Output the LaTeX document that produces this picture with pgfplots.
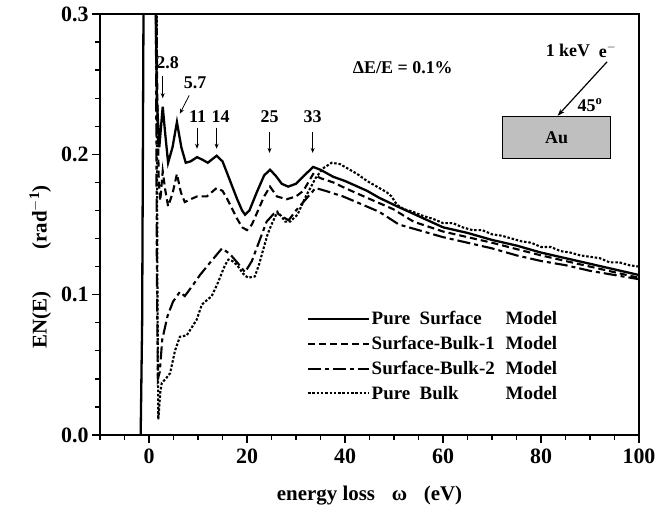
\documentclass[border=0pt]{standalone}
\usepackage{fontspec}
\setmainfont{Liberation Serif}
\usepackage{pgfplots}
\pgfplotsset{compat=1.18}
\usetikzlibrary{arrows.meta}

\pgfplotstableread{
x y
-1.7 0
-1.4 0.08
-1.1 0.32
0 3
1.2 0.35
1.6 0.24
2.1 0.205
2.8 0.234
3.3 0.215
3.9 0.194
4.8 0.205
5.7 0.223
6.6 0.205
7.5 0.194
8.5 0.195
9.8 0.198
11 0.196
12 0.194
13.8 0.199
15 0.195
15.9 0.187
17 0.177
18 0.168
19 0.160
19.6 0.157
20.5 0.160
22 0.173
23.5 0.185
24.7 0.189
25.8 0.185
27.1 0.179
28.4 0.177
30 0.179
31.4 0.184
33.5 0.191
35 0.189
37.6 0.184
40 0.181
44.5 0.174
47 0.169
50.6 0.163
55 0.156
60 0.148
65 0.144
70 0.139
75 0.135
80 0.130
85 0.126
90 0.122
95 0.118
100 0.114
}\surf

\pgfplotstableread{
x y
1.3 0.4
1.7 0.24
2.0 0.18
2.3 0.167
2.8 0.188
3.3 0.175
3.9 0.163
4.8 0.172
5.7 0.186
6.5 0.173
7.3 0.166
8.5 0.168
9.8 0.170
11.8 0.170
13.8 0.176
15 0.174
16 0.168
17 0.161
18 0.154
19 0.148
20 0.146
21 0.150
22 0.158
23.5 0.170
24.7 0.177
26.1 0.170
28.1 0.168
30 0.170
31.5 0.174
33.5 0.186
35 0.183
37.6 0.180
40 0.176
44.5 0.169
49.8 0.161
54 0.152
60 0.145
70 0.137
80 0.128
90 0.120
100 0.112
}\sbone

\pgfplotstableread{
x y
1.3 0.4
1.6 0.12
1.8 0.04
2.2 0.045
2.7 0.068
3.8 0.085
4.9 0.095
6.3 0.102
7.3 0.099
8.8 0.106
10.4 0.114
12.5 0.123
14.9 0.133
16.5 0.129
18 0.123
19.6 0.116
21 0.124
22.6 0.139
24 0.152
25.8 0.159
27 0.156
28.5 0.153
30 0.160
32 0.168
34 0.176
36 0.174
39.6 0.170
43 0.165
47 0.159
51 0.150
55 0.146
60 0.141
65 0.137
70 0.133
75 0.128
80 0.124
85 0.121
90 0.117
95 0.114
100 0.111
}\sbtwo

\pgfplotstableread{
x y
1.5 0.4
1.7 0.12
1.9 0.011
2.3 0.030
2.6 0.037
3.4 0.040
4.3 0.044
5.3 0.060
6.3 0.070
7.7 0.071
9.7 0.082
10.8 0.093
12.8 0.099
14 0.108
15.5 0.121
16.2 0.125
17 0.124
18 0.121
19.2 0.115
20.2 0.112
21.6 0.113
22.5 0.122
23.3 0.132
24.2 0.143
25 0.150
26.2 0.159
27 0.156
27.8 0.152
28.8 0.152
30.3 0.157
32 0.170
34 0.183
35.5 0.190
37.3 0.194
39 0.193
41 0.189
42.5 0.186
44.5 0.181
46.5 0.177
48.5 0.173
49.5 0.170
50.6 0.164
52 0.161
53.9 0.159
56 0.156
58 0.154
60 0.151
62 0.151
64 0.148
66 0.146
68 0.146
70 0.143
72 0.142
74 0.140
76 0.138
78 0.137
80 0.134
82 0.134
84 0.131
86 0.130
88 0.128
90 0.127
92 0.126
94 0.123
96 0.123
98 0.121
100 0.120
}\bulk

\begin{document}
\begin{tikzpicture}[font=\fontsize{18}{21}\selectfont\bfseries]
\begin{axis}[
  scale only axis,
  width=539bp, height=421bp,
  xmin=-10, xmax=100, ymin=0, ymax=0.3,
  xtick={0,20,40,60,80,100},
  minor xtick={-10,-5,...,100},
  ytick={0,0.1,0.2,0.3},
  minor ytick={0.02,0.04,0.06,0.08,0.12,0.14,0.16,0.18,0.22,0.24,0.26,0.28},
  xtick pos=bottom, ytick pos=left,
  tick align=outside,
  major tick length=8bp, minor tick length=5bp,
  axis line style={line width=1.4pt},
  every tick/.style={black, line width=1.4pt},
  /pgf/number format/assume math mode=true,
  yticklabel style={/pgf/number format/fixed, /pgf/number format/fixed zerofill, /pgf/number format/precision=1, font=\fontsize{22}{24}\selectfont\bfseries},
  xticklabel style={font=\fontsize{22}{24}\selectfont\bfseries, yshift=-2bp},
  scaled y ticks=false,
  xlabel={energy loss\hspace{0.8em}ω\hspace{0.8em}(eV)},
  ylabel={EN(E)\hspace{2em}(rad$^{\mathbf{-1}}$)},
  every axis x label/.style={at={(axis description cs:0.5,-0.143)}, anchor=center, font=\fontsize{21}{24}\selectfont\bfseries},
  every axis y label/.style={at={(axis description cs:-0.111,0.40)}, rotate=90, anchor=center, font=\fontsize{21}{24}\selectfont\bfseries},
  legend cell align=left,
  legend style={draw=none, fill=none, at={(axis description cs:0.378,0.302)}, anchor=north west, row sep=7bp, font=\fontsize{19}{21}\selectfont\bfseries, nodes={inner sep=1.5bp}},
  legend image code/.code={\draw[#1] (0bp,0bp) -- (52bp,0bp); \path (0bp,0bp) -- (61bp,0bp);},
]
\addplot[black, line width=2.3bp] table {\surf};
\addlegendentry{\makebox[134bp][l]{Pure\hspace{0.5em}Surface}Model}
\addplot[black, line width=2.1bp, dash pattern=on 7bp off 4bp] table {\sbone};
\addlegendentry{\makebox[134bp][l]{Surface-Bulk-1}Model}
\addplot[black, line width=2.1bp, dash pattern=on 13bp off 4bp on 4bp off 4bp] table {\sbtwo};
\addlegendentry{\makebox[134bp][l]{Surface-Bulk-2}Model}
\addplot[black, line width=2.1bp, dash pattern=on 2.5bp off 1.8bp] table {\bulk};
\addlegendentry{\makebox[134bp][l]{Pure\hspace{0.5em}Bulk}Model}

% peak annotations
\node at (axis cs:3.8,0.265) {2.8};
\draw[-{Stealth[length=5bp,width=4bp]}, line width=0.8pt] (axis cs:2.8,0.256) -- (axis cs:2.8,0.240);
\node at (axis cs:9.4,0.251) {5.7};
\draw[-{Stealth[length=5bp,width=4bp]}, line width=0.8pt] (axis cs:8.2,0.242) -- (axis cs:6.3,0.229);
\node at (axis cs:9.9,0.227) {11};
\draw[-{Stealth[length=5bp,width=4bp]}, line width=0.8pt] (axis cs:9.8,0.219) -- (axis cs:9.8,0.204);
\node at (axis cs:14.6,0.227) {14};
\draw[-{Stealth[length=5bp,width=4bp]}, line width=0.8pt] (axis cs:13.8,0.219) -- (axis cs:13.8,0.204);
\node at (axis cs:24.6,0.227) {25};
\draw[-{Stealth[length=5bp,width=4bp]}, line width=0.8pt] (axis cs:24.6,0.216) -- (axis cs:24.6,0.201);
\node at (axis cs:33.4,0.227) {33};
\draw[-{Stealth[length=5bp,width=4bp]}, line width=0.8pt] (axis cs:33.4,0.216) -- (axis cs:33.4,0.201);

\node at (axis cs:51.8,0.262) {ΔE/E = 0.1\%};
\node at (axis cs:85.5,0.274) {1 keV};
\node at (axis cs:93.6,0.274) {e$^{\mathbf{-}}$};
\draw[fill=black!25, line width=0.8pt] (axis cs:72.2,0.197) rectangle (axis cs:94.1,0.227);
\node at (axis cs:83.2,0.212) {Au};
\draw[-{Stealth[length=7bp,width=5bp]}, line width=1.2pt] (axis cs:93.5,0.266) -- (axis cs:83.4,0.2275);
\node at (axis cs:90,0.235) {45$^{\mathbf{o}}$};
\end{axis}
\pgfresetboundingbox
\path (-100bp,-73bp) rectangle (567bp,435bp);
\end{tikzpicture}
\end{document}
